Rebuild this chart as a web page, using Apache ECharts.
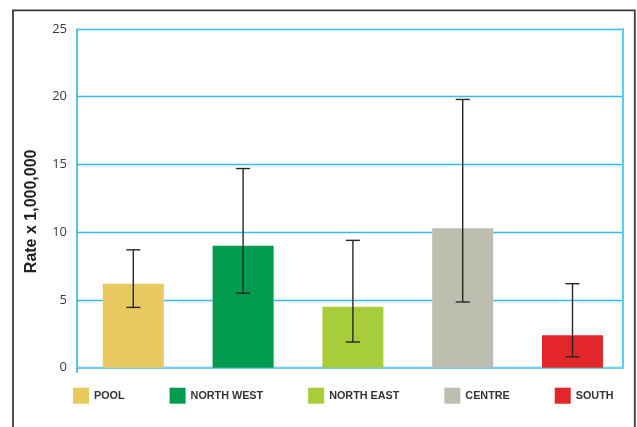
<!DOCTYPE html>
<html>
<head>
<meta charset="utf-8">
<script src="https://cdn.jsdelivr.net/npm/echarts@6/dist/echarts.min.js"></script>
<style>
  html, body { margin: 0; padding: 0; background: #fff; }
  #chart { width: 637px; height: 427px; }
</style>
</head>
<body>
<div id="chart"></div>
<script>
// Rate per 1,000,000 by region, with confidence intervals
const regions = ['POOL', 'NORTH WEST', 'NORTH EAST', 'CENTRE', 'SOUTH'];
const rates = [6.2, 9.0, 4.5, 10.3, 2.4];
const ciLow = [4.45, 5.5, 1.9, 4.85, 0.8];
const ciHigh = [8.7, 14.7, 9.4, 19.8, 6.2];
const regionColors = ['#e8c95f', '#009b4f', '#a8cd3a', '#bdbdb0', '#e3262a'];
const yTicks = [0, 5, 10, 15, 20, 25];

const chart = echarts.init(document.getElementById('chart'), null, { renderer: 'canvas' });

const gridBlue = '#34bdec';
const yMin = yTicks[0], yMax = yTicks[yTicks.length - 1], yStep = yTicks[1] - yTicks[0];

// one series per region so each gets a legend entry; they share one slot per category
const barSeries = regions.map((name, i) => ({
  name: name,
  type: 'bar',
  xAxisIndex: 1,
  yAxisIndex: 2,
  barWidth: 61,
  barGap: '-100%',
  itemStyle: { color: regionColors[i] },
  data: regions.map((_, j) => (j === i ? rates[i] : '-')),
  z: 3
}));

const errorSeries = {
  type: 'custom',
  name: 'ci',
  xAxisIndex: 1,
  yAxisIndex: 2,
  z: 5,
  data: regions.map((_, i) => [i, ciLow[i], ciHigh[i]]),
  renderItem: function (params, api) {
    const lo = api.coord([api.value(0), api.value(1)]);
    const hi = api.coord([api.value(0), api.value(2)]);
    const cap = 7;
    const style = { stroke: '#262626', lineWidth: 1.4 };
    return {
      type: 'group',
      children: [
        { type: 'line', shape: { x1: hi[0], y1: hi[1], x2: lo[0], y2: lo[1] }, style: style },
        { type: 'line', shape: { x1: hi[0] - cap, y1: hi[1], x2: hi[0] + cap, y2: hi[1] }, style: style },
        { type: 'line', shape: { x1: lo[0] - cap, y1: lo[1], x2: lo[0] + cap, y2: lo[1] }, style: style }
      ]
    };
  }
};

const option = {
  animation: false,
  backgroundColor: '#ffffff',
  grid: [
    { left: 77, right: 14, top: 29, bottom: 59.3 },
    { left: 78.4, right: 9.6, top: 29, bottom: 59.3 }
  ],
  xAxis: [
    {
      gridIndex: 0,
      type: 'value',
      min: 0,
      max: 1,
      axisLabel: { show: false },
      splitLine: { show: false },
      axisLine: { show: true, lineStyle: { color: '#72d0f2', width: 2 } },
      axisTick: { show: true, customValues: [0], length: 5, inside: false, lineStyle: { color: '#1fb0e6', width: 1.5 } }
    },
    {
      gridIndex: 1,
      type: 'category',
      data: regions,
      show: false
    }
  ],
  yAxis: [
    {
      gridIndex: 0,
      type: 'value',
      min: yMin,
      max: yMax,
      interval: yStep,
      name: 'Rate x 1,000,000',
      nameLocation: 'middle',
      nameGap: 37,
      nameTextStyle: {
        fontFamily: 'Liberation Sans, Arial, sans-serif',
        fontWeight: 'bold',
        fontSize: 16,
        color: '#222',
        padding: [0, 26, 0, 0]
      },
      axisLine: { show: true, lineStyle: { color: '#1fb0e6', width: 1.5 } },
      axisTick: { show: false },
      axisLabel: { margin: 10, fontFamily: 'Open Sans, sans-serif', fontSize: 13, color: '#3a3a3a' },
      splitLine: { show: true, lineStyle: { color: gridBlue, width: 1.3 } }
    },
    {
      gridIndex: 0,
      type: 'value',
      position: 'right',
      min: yMin,
      max: yMax,
      interval: yStep,
      axisLine: { show: true, lineStyle: { color: '#5ecbf0', width: 2 } },
      axisTick: { show: false },
      axisLabel: { show: false },
      splitLine: { show: false }
    },
    {
      gridIndex: 1,
      type: 'value',
      min: yMin,
      max: yMax,
      interval: yStep,
      show: false
    }
  ],
  legend: {
    data: regions,
    left: 73,
    top: 387.7,
    width: 600,
    padding: 0,
    itemWidth: 16,
    itemHeight: 16,
    itemGap: 45,
    icon: 'rect',
    selectedMode: false,
    textStyle: {
      fontFamily: 'Liberation Sans, Arial, sans-serif',
      fontWeight: 'bold',
      fontSize: 10.8,
      color: '#333'
    }
  },
  graphic: [
    {
      type: 'rect',
      silent: true,
      shape: { x: 13, y: 10.3, width: 621.8, height: 440 },
      style: { fill: 'none', stroke: '#3a3a3a', lineWidth: 1.8 }
    }
  ],
  series: barSeries.concat([errorSeries])
};

chart.setOption(option);
</script>
</body>
</html>
